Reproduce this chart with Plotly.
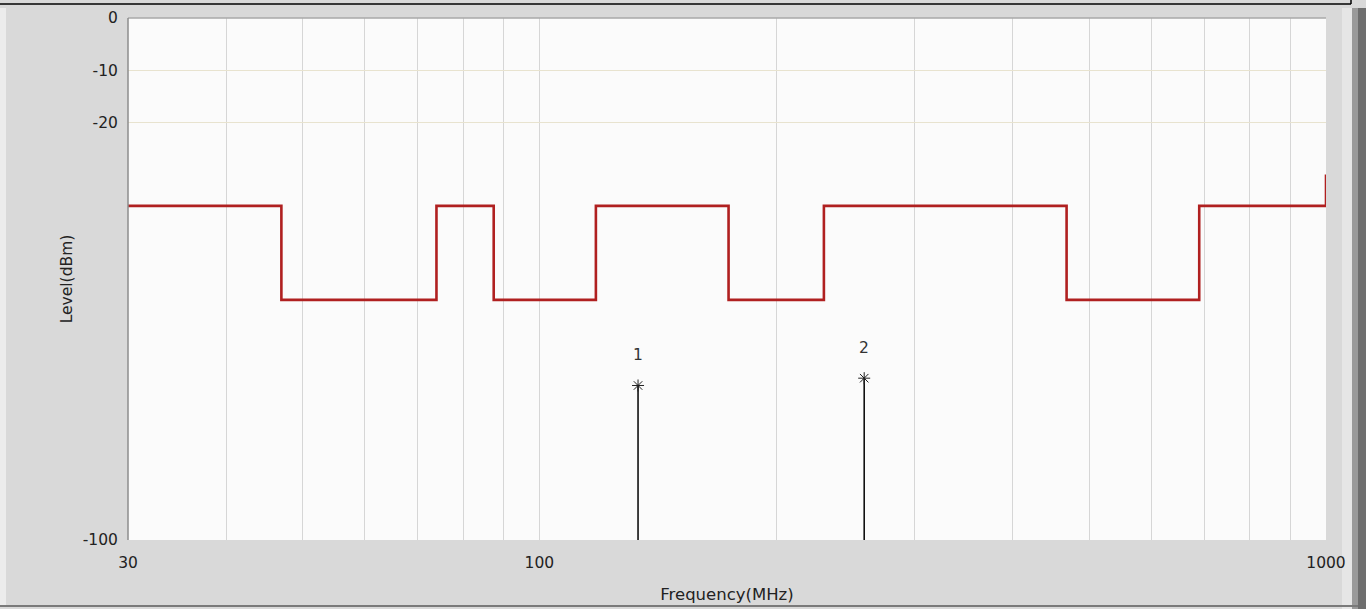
import math
import plotly.graph_objects as go

# ---- data ----
limit_freq = [30, 47, 74, 87.5, 118, 174, 230, 468, 690, 1000, 1000]
limit_level = [-36, -54, -36, -54, -36, -54, -36, -54, -36, -36, -30]

marker_labels = ["1", "2"]
marker_freq = [133.5, 258.8]
marker_level = [-70.4, -69.0]
floor_level = -100

x_tickvals = [30, 40, 50, 60, 70, 80, 90, 100, 200, 300, 400, 500, 600, 700, 800, 900, 1000]
x_ticktext = ["30", "", "", "", "", "", "", "100", "", "", "", "", "", "", "", "", "1000"]
y_tickvals = [0, -10, -20, -100]
y_ticktext = ["0", "-10", "-20", "-100"]

# ---- layout geometry ----
W, H = 1366, 609
L, R, T, B = 128, 40, 18, 69
PW, PH = W - L - R, H - T - B

def px(x):
    return (x - L) / PW

def py(y):
    return (H - B - y) / PH

FONT = "DejaVu Sans, Noto Sans, sans-serif"
FS = 15.5

fig = go.Figure()

fig.add_trace(go.Scatter(
    x=limit_freq, y=limit_level, mode="lines", line_shape="hv",
    line=dict(color="#b02020", width=2.6), hoverinfo="skip", showlegend=False))

for lab, f, v in zip(marker_labels, marker_freq, marker_level):
    fig.add_trace(go.Scatter(
        x=[f, f], y=[floor_level, v], mode="lines",
        line=dict(color="#111111", width=1.6), showlegend=False, hoverinfo="skip"))
    fig.add_trace(go.Scatter(
        x=[f], y=[v], mode="markers",
        marker=dict(symbol="asterisk-open", size=10, color="#222222",
                    line=dict(color="#222222", width=1)),
        showlegend=False, hoverinfo="skip"))
    fig.add_annotation(x=math.log10(f), y=v, text=lab, showarrow=False,
                       yshift=30, font=dict(family=FONT, size=FS, color="#333333"))

shapes = [
    # plot frame: top and left edges
    dict(type="line", xref="paper", yref="paper", x0=0, x1=1, y0=1, y1=1,
         line=dict(color="#a8a8a8", width=1.5)),
    dict(type="line", xref="paper", yref="paper", x0=0, x1=0, y0=0, y1=1,
         line=dict(color="#8c8c8c", width=1.5)),
    # window decorations
    dict(type="line", xref="paper", yref="paper", x0=px(0), x1=px(1351), y0=py(4), y1=py(4),
         line=dict(color="#000000", width=1.5)),
    dict(type="line", xref="paper", yref="paper", x0=px(1351), x1=px(1351), y0=py(0), y1=py(4),
         line=dict(color="#000000", width=1.5)),
    dict(type="rect", xref="paper", yref="paper", x0=px(1342), x1=px(1352), y0=py(609), y1=py(8),
         fillcolor="#e6e6e6", line=dict(width=0), layer="below"),
    dict(type="rect", xref="paper", yref="paper", x0=px(1352), x1=px(1366), y0=py(609), y1=py(8),
         fillcolor="#9a9a9a", line=dict(width=0), layer="below"),
    dict(type="rect", xref="paper", yref="paper", x0=px(1358), x1=px(1366), y0=py(609), y1=py(8),
         fillcolor="#6e6e6e", line=dict(width=0), layer="below"),
    dict(type="line", xref="paper", yref="paper", x0=px(0), x1=px(1358), y0=py(606), y1=py(606),
         line=dict(color="#7a7a7a", width=2)),
    dict(type="rect", xref="paper", yref="paper", x0=px(0), x1=px(6), y0=py(605), y1=py(8),
         fillcolor="#ececec", line=dict(width=0), layer="below"),
]

fig.update_layout(
    width=W, height=H,
    margin=dict(l=L, r=R, t=T, b=B),
    paper_bgcolor="#d9d9d9",
    plot_bgcolor="#fbfbfb",
    shapes=shapes,
    font=dict(family=FONT, size=FS, color="#222222"),
    xaxis=dict(
        type="log", range=[math.log10(30), math.log10(1000)],
        tickvals=x_tickvals, ticktext=x_ticktext,
        showgrid=True, gridcolor="#d6d6d6", gridwidth=1,
        ticks="outside", ticklen=8, tickcolor="rgba(0,0,0,0)",
        zeroline=False, showline=False, automargin=False,
        title=dict(text="Frequency(MHz)", standoff=17, font=dict(size=16.5)),
        tickfont=dict(size=FS),
    ),
    yaxis=dict(
        range=[-100, 0], tickvals=y_tickvals, ticktext=y_ticktext,
        showgrid=True, gridcolor="#e8e3cf", gridwidth=1,
        ticks="outside", ticklen=6, tickcolor="rgba(0,0,0,0)",
        zeroline=False, showline=False, automargin=False,
        title=dict(text="Level(dBm)", standoff=6, font=dict(size=FS)),
        tickfont=dict(size=FS),
    ),
)

fig.write_html("out.html")
